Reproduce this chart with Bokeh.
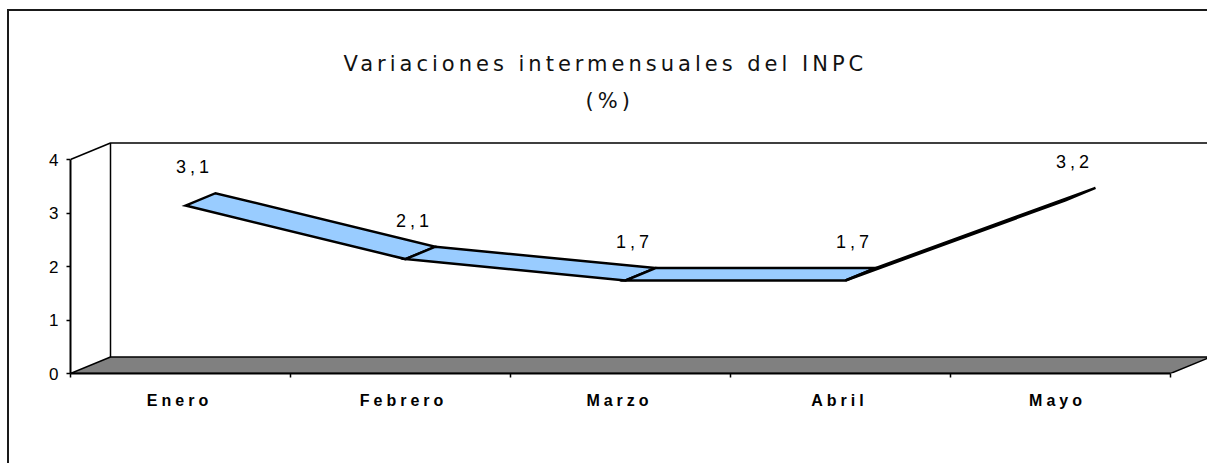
from bokeh.plotting import figure
from bokeh.models import (ColumnDataSource, LabelSet, Label, FixedTicker, LinearAxis,
                          CustomJSTickFormatter)
from bokeh.core.properties import value
from bokeh.embed import file_html
from bokeh.resources import INLINE

# ---- data ----
months = ["Enero", "Febrero", "Marzo", "Abril", "Mayo"]
values = [3.1, 2.1, 1.7, 1.7, 3.2]
value_labels = ["3,1", "2,1", "1,7", "1,7", "3,2"]
y_ticks = [0, 1, 2, 3, 4]
title_lines = ["Variaciones intermensuales del INPC", "(%)"]

# ---- layout / style constants ----
W, H = 1207, 463
BL = 70                 # frame starts at x=70
BB = H - 373            # frame bottom at y=373
PX_X, PX_Y = 220.0, 53.5
n = len(months)
x0 = -0.5
x1 = x0 + (W - BL) / PX_X
y1 = (H - BB) / PX_Y
DX = 40 / PX_X          # 3-D depth offset in data units
DY = 16.5 / PX_Y
D0, D1 = 0.125, 0.875   # ribbon depth span
ymax = max(y_ticks)
LABEL_SHIFT = -0.05     # compensates letter-spacing drift of category labels

p = figure(width=W, height=H, x_range=(x0, x1), y_range=(0, y1),
           output_backend="svg", toolbar_location=None,
           min_border_left=BL, min_border_bottom=BB, min_border_top=0, min_border_right=0,
           x_axis_type=None, y_axis_type=None)
p.grid.visible = False
p.outline_line_color = None
p.background_fill_color = None
p.border_fill_color = None
p.styles = {
    "letter-spacing": "4px",
    "background": ("linear-gradient(#1a1a1a, #1a1a1a) 7px 9px / 2px 100% no-repeat, "
                   "linear-gradient(#1a1a1a, #1a1a1a) 7px 9px / 100% 2px no-repeat, white"),
}

# floor
xa, xb = x0, x0 + n
p.patch([xa, xb, xb + DX, xa + DX], [0, 0, DY, DY],
        fill_color="#808080", line_color="black", line_width=1.5)
# back wall and side wall edges
p.multi_line(xs=[[xa + DX, xa + DX, xb + DX], [xa, xa + DX]],
             ys=[[DY, ymax + DY, ymax + DY], [ymax, ymax + DY]],
             line_color="black", line_width=1.5)

# 3-D ribbon
rx, ry = [], []
for i in range(n - 1):
    va, vb = values[i], values[i + 1]
    rx.append([i + D0 * DX, i + 1 + D0 * DX, i + 1 + D1 * DX, i + D1 * DX])
    ry.append([va + D0 * DY, vb + D0 * DY, vb + D1 * DY, va + D1 * DY])
p.patches(rx, ry, fill_color="#99CCFF", line_color="black", line_width=2.5, line_join="miter")

# data labels
src = ColumnDataSource(dict(x=list(range(n)), y=values, t=value_labels))
p.add_layout(LabelSet(x="x", y="y", text="t", source=src, x_offset=8, y_offset=41,
                      text_align="center", text_baseline="middle",
                      text_font=value("Liberation Sans"), text_font_size=value("18px"),
                      text_color="black"))

# title (left-aligned so letter spacing grows to the right)
p.add_layout(Label(x=0.741, y=5.79, text=title_lines[0],
                   text_align="left", text_baseline="middle",
                   text_font="DejaVu Sans", text_font_size="21px", text_color="#111111"))
p.add_layout(Label(x=1.841, y=5.10, text=title_lines[1],
                   text_align="left", text_baseline="middle",
                   text_font="DejaVu Sans", text_font_size="21px", text_color="#111111"))

# y axis
yax = LinearAxis(ticker=FixedTicker(ticks=y_ticks), bounds=(0, ymax))
yax.major_tick_out = 4
yax.major_tick_in = 0
yax.minor_tick_out = 0
yax.minor_tick_in = 0
yax.axis_line_width = 2
yax.major_tick_line_width = 1.5
yax.major_label_standoff = 8
yax.major_label_text_font = "Liberation Sans"
yax.major_label_text_font_size = "17px"
yax.major_label_text_color = "black"
p.add_layout(yax, "left")

# x axis: labels at category centres, small ticks at category boundaries
xax = LinearAxis(ticker=FixedTicker(ticks=[i + LABEL_SHIFT for i in range(n)],
                                    minor_ticks=[i - 0.5 for i in range(n + 1)]),
                 bounds=(x0, x0 + n))
xax.formatter = CustomJSTickFormatter(args=dict(labels=months),
                                      code="const l = labels[Math.round(tick)]; return l ? l : '';")
xax.major_tick_out = 0
xax.major_tick_in = 0
xax.minor_tick_out = 4
xax.minor_tick_in = 0
xax.minor_tick_line_color = "black"
xax.minor_tick_line_width = 1.5
xax.axis_line_width = 2
xax.major_label_standoff = 14
xax.major_label_text_font = "Liberation Sans"
xax.major_label_text_font_style = "bold"
xax.major_label_text_font_size = "16px"
xax.major_label_text_color = "black"
p.add_layout(xax, "below")

open("out.html", "w").write(file_html(p, INLINE))
